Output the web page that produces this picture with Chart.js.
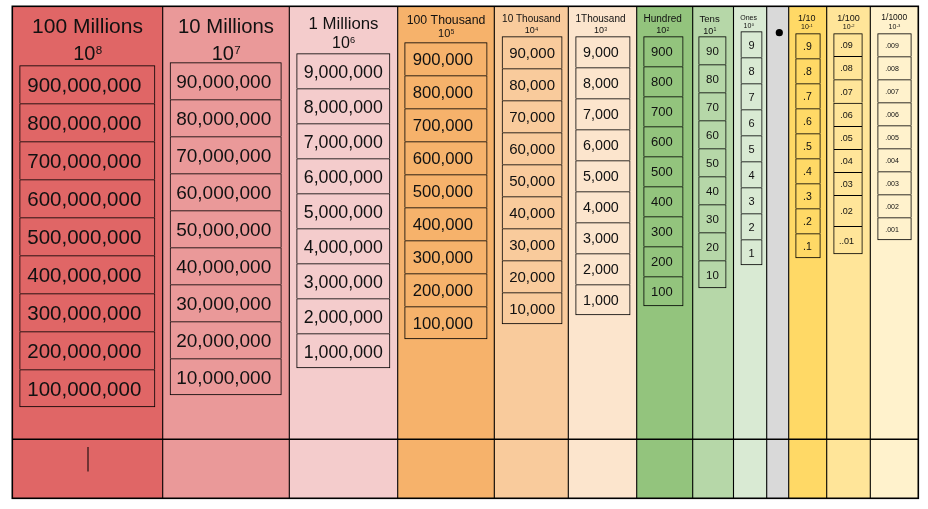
<!DOCTYPE html>
<html>
<head>
<meta charset="utf-8">
<script src="https://cdn.jsdelivr.net/npm/chart.js@4.4.1/dist/chart.umd.min.js"></script>
<style>
  html, body { margin: 0; padding: 0; background: #fff; }
  #wrap { position: relative; width: 928px; height: 509px; }
</style>
</head>
<body>
<div id="wrap"><canvas id="chart"></canvas></div>
<script>
// header names and powers of ten (null = the decimal point column)
const placeNames = ['100 Millions', '10 Millions', '1 Millions', '100 Thousand', '10 Thousand', '1Thousand', 'Hundred', 'Tens', 'Ones', '', '1/10', '1/100', '1/1000'];
const placePowers = [8, 7, 6, 5, 4, 3, 2, 1, 0, null, -1, -2, -3];

// cards in each column, top to bottom
const hundredMillions = ['900,000,000', '800,000,000', '700,000,000', '600,000,000', '500,000,000', '400,000,000', '300,000,000', '200,000,000', '100,000,000'];
const tenMillions = ['90,000,000', '80,000,000', '70,000,000', '60,000,000', '50,000,000', '40,000,000', '30,000,000', '20,000,000', '10,000,000'];
const millions = ['9,000,000', '8,000,000', '7,000,000', '6,000,000', '5,000,000', '4,000,000', '3,000,000', '2,000,000', '1,000,000'];
const hundredThousands = ['900,000', '800,000', '700,000', '600,000', '500,000', '400,000', '300,000', '200,000', '100,000'];
const tenThousands = ['90,000', '80,000', '70,000', '60,000', '50,000', '40,000', '30,000', '20,000', '10,000'];
const thousands = ['9,000', '8,000', '7,000', '6,000', '5,000', '4,000', '3,000', '2,000', '1,000'];
const hundreds = ['900', '800', '700', '600', '500', '400', '300', '200', '100'];
const tens = ['90', '80', '70', '60', '50', '40', '30', '20', '10'];
const ones = ['9', '8', '7', '6', '5', '4', '3', '2', '1'];
const tenths = ['.9', '.8', '.7', '.6', '.5', '.4', '.3', '.2', '.1'];
const hundredths = ['.09', '.08', '.07', '.06', '.05', '.04', '.03', '.02', '..01'];
const thousandths = ['.009', '.008', '.007', '.006', '.005', '.004', '.003', '.002', '.001'];
const placeCells = [hundredMillions, tenMillions, millions, hundredThousands, tenThousands, thousands, hundreds, tens, ones, [], tenths, hundredths, thousandths];

// ---- layout (axis units = px) ----
const FONT = '"Liberation Sans", Arial, sans-serif';
const colEdges = [12.3, 162.7, 289.3, 397.7, 494.3, 568.3, 636.7, 692.7, 733.5, 766.7, 788.7, 826.7, 870.3, 918.3];
const colColors = ['#e06666', '#ea9999', '#f4cccc', '#f6b26b', '#f9cb9c', '#fce5cd', '#93c47d', '#b6d7a8', '#d9ead3', '#d9d9d9', '#ffd966', '#ffe599', '#fff2cc'];
const frameTop = 6.3, frameBottom = 498.3, footerLine = 439.3;

// card stacks: left, right, top, row height, font size, text nudge
const stacks = [
  { l: 19.3, r: 155.3, t: 65.3, h: 38, f: 20.5, dx: -3 },
  { l: 169.7, r: 281.7, t: 62.3, h: 37, f: 19, dx: -2 },
  { l: 296.3, r: 390.3, t: 53.3, h: 35, f: 17.8, dx: 0 },
  { l: 404.3, r: 487.5, t: 42.3, h: 33, f: 16.7, dx: -3 },
  { l: 501.7, r: 562.5, t: 36.3, h: 32, f: 15, dx: 0 },
  { l: 575.3, r: 630.5, t: 36.3, h: 31, f: 14.3, dx: -2 },
  { l: 643.3, r: 683.5, t: 36.3, h: 30, f: 13, dx: -1.5 },
  { l: 698.3, r: 726.5, t: 36.3, h: 28, f: 11.5, dx: 0 },
  { l: 740.5, r: 762.5, t: 31.3, h: 26, f: 11, dx: 0 },
  null,
  { l: 795.3, r: 820.7, t: 33.3, h: 25, f: 10.5, dx: -0.5 },
  { l: 833.3, r: 862.7, t: 33.3, h: 23, f: 9, dx: -1.5, rows: [33.3, 56, 79.3, 102.7, 126, 149, 172, 195, 226, 254.3] },
  { l: 877.3, r: 911.7, t: 33.3, h: 23, f: 7, dx: -2.5 }
];

// header text: name size / cap-centre y, power size / cap-centre y
const heads = [
  { f1: 21, y1: 25.8, f2: 20, y2: 52.5 },
  { f1: 20.3, y1: 25.8, f2: 20, y2: 52.5 },
  { f1: 16.8, y1: 23, f2: 16, y2: 42.2 },
  { f1: 12.3, y1: 20, f2: 11, y2: 33.3 },
  { f1: 10, y1: 18.8, f2: 9, y2: 30 },
  { f1: 10, y1: 18.8, f2: 9, y2: 30, dx: -2 },
  { f1: 10, y1: 18.8, f2: 9, y2: 30, dx: -2 },
  { f1: 9.6, y1: 18.8, f2: 9, y2: 30.5, dx: -3.5 },
  { f1: 7, y1: 17.8, f2: 7, y2: 25.5, dx: -1.5 },
  null,
  { f1: 9, y1: 17.3, f2: 7, y2: 26.2, dx: -1 },
  { f1: 9, y1: 17.3, f2: 7, y2: 26.2 },
  { f1: 8.5, y1: 17.3, f2: 7, y2: 26.2 }
];

function rowBounds(s, k) {
  if (s.rows) return [s.rows[k], s.rows[k + 1]];
  return [s.t + k * s.h, s.t + (k + 1) * s.h];
}

const datasets = [];

// column fills
colColors.forEach((c, i) => {
  const l = colEdges[i], r = colEdges[i + 1];
  datasets.push({
    type: 'bar',
    data: [{ x: (l + r) / 2, y: [frameTop, frameBottom] }],
    backgroundColor: c,
    borderWidth: 0,
    barThickness: r - l + 0.6,
    grouped: false,
    inflateAmount: 0,
    order: 3
  });
});

// cards
const cardSets = [];
placeCells.forEach((cells, i) => {
  const s = stacks[i];
  if (!s || !cells.length) return;
  const last = cells.length - 1;
  cardSets.push({ index: datasets.length, col: i });
  datasets.push({
    type: 'bar',
    data: cells.map((label, k) => ({ x: (s.l + s.r) / 2, y: rowBounds(s, k) })),
    backgroundColor: 'rgba(0,0,0,0)',
    borderColor: '#000',
    borderWidth: ctx => ctx.dataIndex === last ? 1 : { top: 1, left: 1, right: 1, bottom: 0 },
    borderSkipped: false,
    barThickness: s.r - s.l,
    grouped: false,
    inflateAmount: 0,
    order: 2
  });
});

// the decimal point
datasets.push({
  type: 'scatter',
  data: [{ x: (colEdges[9] + colEdges[10]) / 2 + 1.6, y: 32.7 }],
  pointRadius: 3.6,
  pointBackgroundColor: '#000',
  pointBorderWidth: 0,
  order: 0
});

function drawPower(ctx, cx, capMid, size, power) {
  const supSize = size * 0.58;
  const sup = power < 0 ? '-' + (-power) : String(power);
  ctx.font = `${size}px ${FONT}`;
  const wb = ctx.measureText('10').width;
  ctx.font = `${supSize}px ${FONT}`;
  const ws = ctx.measureText(sup).width;
  const left = cx - (wb + ws) / 2;
  const capTop = capMid - 0.358 * size;
  ctx.textAlign = 'left';
  ctx.font = `${size}px ${FONT}`;
  ctx.fillText('10', left, capMid + 0.358 * size);
  ctx.font = `${supSize}px ${FONT}`;
  ctx.fillText(sup, left + wb + 0.3, capTop + 0.716 * supSize);
}

const placeText = {
  id: 'placeText',
  afterDatasetsDraw(chart) {
    const { ctx, scales: { x, y } } = chart;
    ctx.save();
    ctx.fillStyle = '#111';
    ctx.textBaseline = 'alphabetic';

    // card labels
    cardSets.forEach(({ index, col }) => {
      const s = stacks[col];
      ctx.font = `${s.f}px ${FONT}`;
      ctx.textAlign = 'center';
      chart.getDatasetMeta(index).data.forEach((el, k) => {
        const cy = (el.y + el.base) / 2;
        ctx.fillText(placeCells[col][k], el.x + s.dx, cy + 0.358 * s.f + 0.5);
      });
    });

    // headers
    placeNames.forEach((name, i) => {
      const h = heads[i];
      if (!h) return;
      const cx = x.getPixelForValue((colEdges[i] + colEdges[i + 1]) / 2) + (h.dx || 0);
      ctx.textAlign = 'center';
      ctx.font = `${h.f1}px ${FONT}`;
      ctx.fillText(name, cx, y.getPixelForValue(h.y1) + 0.358 * h.f1);
      drawPower(ctx, cx, y.getPixelForValue(h.y2), h.f2, placePowers[i]);
    });

    // rules and frame
    ctx.strokeStyle = '#000';
    ctx.lineWidth = 1.1;
    ctx.beginPath();
    for (let i = 1; i < colEdges.length - 1; i++) {
      const px = x.getPixelForValue(colEdges[i]);
      ctx.moveTo(px, y.getPixelForValue(frameTop));
      ctx.lineTo(px, y.getPixelForValue(frameBottom));
    }
    ctx.stroke();
    ctx.lineWidth = 1.6;
    ctx.beginPath();
    ctx.moveTo(x.getPixelForValue(colEdges[0]), y.getPixelForValue(footerLine));
    ctx.lineTo(x.getPixelForValue(colEdges[colEdges.length - 1]), y.getPixelForValue(footerLine));
    ctx.stroke();
    ctx.strokeRect(x.getPixelForValue(colEdges[0]), y.getPixelForValue(frameTop),
      x.getPixelForValue(colEdges[colEdges.length - 1]) - x.getPixelForValue(colEdges[0]),
      y.getPixelForValue(frameBottom) - y.getPixelForValue(frameTop));

    // the little stroke left in the first footer cell
    ctx.lineWidth = 1;
    ctx.beginPath();
    ctx.moveTo(x.getPixelForValue(88), y.getPixelForValue(447));
    ctx.lineTo(x.getPixelForValue(88), y.getPixelForValue(471.5));
    ctx.stroke();
    ctx.restore();
  }
};

new Chart(document.getElementById('chart'), {
  type: 'bar',
  data: { datasets },
  options: {
    responsive: true,
    maintainAspectRatio: false,
    animation: false,
    events: [],
    layout: { padding: 0, autoPadding: false },
    plugins: { legend: { display: false }, tooltip: { enabled: false } },
    scales: {
      x: { type: 'linear', min: 0, max: 928, offset: false, display: false },
      y: { type: 'linear', min: 0, max: 509, reverse: true, display: false }
    }
  },
  plugins: [placeText]
});
</script>
</body>
</html>
